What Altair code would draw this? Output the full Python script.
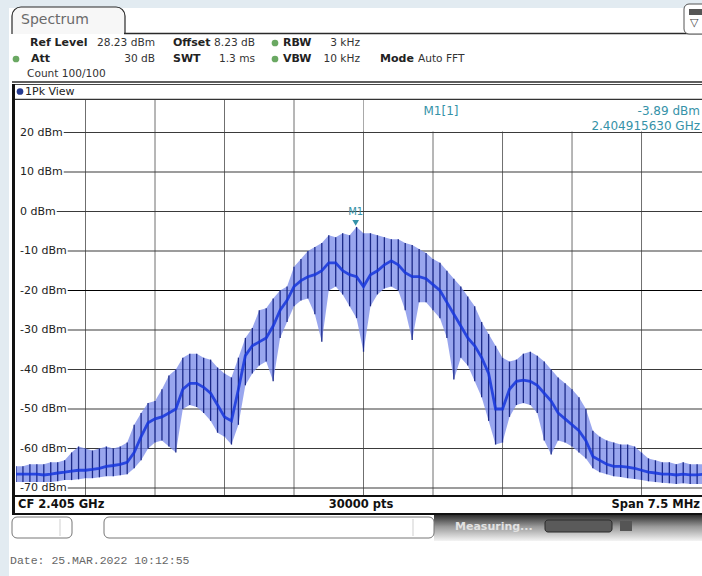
import altair as alt
import pandas as pd

# ---------------- data ----------------
freq_mhz = [
    -3.750, -3.675, -3.600, -3.525, -3.450, -3.375, -3.300, -3.225, -3.150, -3.075,
    -3.000, -2.925, -2.850, -2.775, -2.700, -2.625, -2.550, -2.475, -2.400, -2.325,
    -2.250, -2.175, -2.100, -2.025, -1.950, -1.875, -1.800, -1.725, -1.650, -1.575,
    -1.500, -1.425, -1.350, -1.275, -1.200, -1.125, -1.050, -0.975, -0.900, -0.825,
    -0.750, -0.675, -0.600, -0.525, -0.450, -0.375, -0.300, -0.225, -0.150, -0.075,
    0.000, 0.075, 0.150, 0.225, 0.300, 0.375, 0.450, 0.525, 0.600, 0.675,
    0.750, 0.825, 0.900, 0.975, 1.050, 1.125, 1.200, 1.275, 1.350, 1.425,
    1.500, 1.575, 1.650, 1.725, 1.800, 1.875, 1.950, 2.025, 2.100, 2.175,
    2.250, 2.325, 2.400, 2.475, 2.550, 2.625, 2.700, 2.775, 2.850, 2.925,
    3.000, 3.075, 3.150, 3.225, 3.300, 3.375, 3.450, 3.525, 3.600, 3.675,
    3.750,
]
peak_dbm = [
    -64.5, -64.5, -64.0, -64.0, -64.0, -63.5, -63.5, -63.0, -61.0, -59.5,
    -60.0, -60.5, -60.0, -59.5, -60.0, -59.5, -58.5, -54.0, -51.0, -48.5,
    -48.0, -45.0, -41.5, -40.0, -37.0, -36.0, -36.0, -37.0, -37.5, -39.5,
    -41.0, -42.0, -37.0, -32.0, -29.5, -25.0, -24.5, -22.0, -20.0, -19.0,
    -14.0, -12.0, -10.0, -9.0, -8.0, -6.0, -6.5, -5.5, -6.0, -3.9,
    -5.5, -5.5, -6.0, -6.5, -7.0, -7.0, -8.0, -8.5, -9.5, -10.5,
    -12.0, -13.0, -15.0, -17.0, -19.0, -21.5, -24.0, -28.0, -31.0, -34.0,
    -37.0, -38.0, -37.5, -36.0, -35.5, -36.5, -38.0, -40.0, -42.0, -43.5,
    -45.0, -47.0, -50.0, -55.5, -57.0, -58.0, -58.5, -59.0, -59.0, -59.5,
    -61.0, -62.5, -63.0, -63.5, -63.5, -64.0, -63.5, -64.0, -64.0, -64.0,
    -64.0,
]
core_dbm = [
    -66.5, -66.5, -66.5, -66.5, -66.7, -66.5, -66.2, -66.0, -65.7, -65.5,
    -65.5, -65.3, -65.0, -64.5, -64.3, -64.0, -63.5, -61.0, -57.0, -53.5,
    -52.5, -52.0, -51.0, -50.0, -45.0, -43.5, -43.5, -44.5, -46.0, -49.0,
    -52.0, -53.0, -45.0, -36.5, -34.0, -33.0, -32.0, -29.0, -25.0, -22.5,
    -19.0, -17.5, -16.5, -16.0, -15.0, -13.0, -13.0, -15.0, -16.0, -16.5,
    -19.0, -16.0, -15.0, -13.5, -12.5, -13.5, -15.5, -16.5, -16.5, -17.0,
    -18.5, -20.0, -23.0, -26.0, -29.0, -32.0, -34.0, -37.0, -41.0, -50.0,
    -50.0, -45.0, -43.0, -42.7, -43.0, -44.0, -46.0, -48.0, -51.0, -52.5,
    -54.0, -55.5, -58.0, -62.0, -63.0, -64.0, -64.5, -64.5, -64.7, -65.0,
    -65.5, -66.0, -66.2, -66.5, -66.5, -66.7, -66.5, -66.7, -66.7, -66.5,
    -66.5,
]
floor_dbm = [
    -68.5, -68.5, -68.5, -68.5, -68.5, -68.5, -68.3, -68.0, -68.0, -67.8,
    -67.5, -67.5, -67.3, -67.0, -67.0, -66.8, -66.5, -65.0, -63.0, -60.0,
    -58.5, -58.0, -59.5, -61.0, -50.0, -49.0, -49.5, -51.0, -53.0, -56.0,
    -57.0, -59.0, -54.0, -44.0, -41.0, -39.0, -38.0, -43.0, -32.0, -28.0,
    -24.0, -22.5, -22.0, -26.0, -33.0, -20.0, -19.0, -21.0, -24.0, -27.0,
    -35.5, -24.0, -21.0, -19.5, -19.0, -20.0, -25.0, -32.5, -23.0, -23.0,
    -25.0, -27.0, -32.0, -42.5, -37.0, -39.0, -43.0, -47.0, -53.0, -59.0,
    -58.5, -52.0, -49.0, -48.5, -49.0, -51.0, -58.0, -61.5, -58.0, -58.5,
    -59.5, -61.0, -62.5, -65.0, -66.0, -66.5, -67.0, -67.2, -67.5, -67.7,
    -68.0, -68.3, -68.5, -68.7, -68.8, -69.0, -68.8, -69.0, -69.0, -69.0,
    -69.0,
]

level_ticks = [20, 10, 0, -10, -20, -30, -40, -50, -60, -70]
level_labels = ["20 dBm", "10 dBm", "0 dBm", "-10 dBm", "-20 dBm",
                "-30 dBm", "-40 dBm", "-50 dBm", "-60 dBm", "-70 dBm"]
freq_grid = [-3.0, -2.25, -1.5, -0.75, 0.0, 0.75, 1.5, 2.25, 3.0]
marker_freq = [-0.08437]      # 2.404915630 GHz relative to CF 2.405 GHz
marker_level = [-3.89]

# ---------------- layout ----------------
W, H = 686, 395
PL, PT = 16, 100
PPM = 92.67                    # px per MHz
XMIN = -3.75
XMAX = XMIN + W / PPM
YMAX = 28.23
YMIN = YMAX - 100.0
FONT = "DejaVu Sans"

xs = alt.Scale(domain=[XMIN, XMAX], nice=False, zero=False)
ys = alt.Scale(domain=[YMIN, YMAX], nice=False, zero=False)

one = pd.DataFrame({"k": [0]})


def X(v):
    return v - PL


def Y(v):
    return v - PT


def rect(x1, y1, x2, y2, **kw):
    return alt.Chart(one).mark_rect(**kw).encode(
        x=alt.value(X(x1)), x2=alt.value(X(x2)), y=alt.value(Y(y1)), y2=alt.value(Y(y2)))


def line(x1, y1, x2, y2, color="#222", w=1.0):
    return alt.Chart(one).mark_rule(color=color, strokeWidth=w).encode(
        x=alt.value(X(x1)), x2=alt.value(X(x2)), y=alt.value(Y(y1)), y2=alt.value(Y(y2)))


def txt(s, x, y, size=11, weight="normal", align="left", color="#222", font=FONT):
    return alt.Chart(one).mark_text(
        text=s, fontSize=size, fontWeight=weight, align=align, baseline="middle",
        color=color, font=font).encode(x=alt.value(X(x)), y=alt.value(Y(y)))


def dot(x, y, color, size=40):
    return alt.Chart(one).mark_point(filled=True, shape="circle", size=size,
                                     color=color, opacity=1).encode(
        x=alt.value(X(x)), y=alt.value(Y(y)))


# ---------------- chrome ----------------
layers = []
layers.append(rect(9, 8, 710, 580, color="white"))
# tab
layers.append(rect(12, 7, 125, 42, fill="#f7f7f7", stroke="#2a2a2a", strokeWidth=1.2,
                   cornerRadiusTopLeft=9, cornerRadiusTopRight=9))
layers.append(rect(10, 34, 710, 82, color="white"))
layers.append(line(124, 33.5, 702, 33.5, "#2a2a2a", 1.3))
layers.append(txt("Spectrum", 21, 20, size=14, color="#6a6a6a"))
# top right icon
layers.append(rect(684, 4, 712, 34, fill="white", stroke="#555", strokeWidth=1,
                   cornerRadius=5))
layers.append(rect(689, 9, 702, 15, color="#555"))
layers.append(txt("\u25bd", 690, 23, size=11, color="#444"))

# header rows
VS = 10.6
layers += [
    txt("Ref Level", 30, 43, weight="bold"),
    txt("28.23 dBm", 155, 43, size=VS, align="right", color="#333"),
    txt("Offset", 173, 43, weight="bold"),
    txt("8.23 dB", 255, 43, size=VS, align="right", color="#333"),
    dot(275, 43, "#6aa862", 45),
    txt("RBW", 283, 43, weight="bold"),
    txt("3 kHz", 360, 43, size=VS, align="right", color="#333"),
    dot(16, 59, "#6aa862", 45),
    txt("Att", 31, 59, weight="bold"),
    txt("30 dB", 155, 59, size=VS, align="right", color="#333"),
    txt("SWT", 173, 59, weight="bold"),
    txt("1.3 ms", 255, 59, size=VS, align="right", color="#333"),
    dot(275, 59, "#6aa862", 45),
    txt("VBW", 283, 59, weight="bold"),
    txt("10 kHz", 360, 59, size=VS, align="right", color="#333"),
    txt("Mode", 380, 59, weight="bold"),
    txt("Auto FFT", 418, 59, size=VS, color="#333"),
    txt("Count 100/100", 27, 74, size=VS, color="#333"),
]
layers.append(line(12, 82, 702, 82, "#2a2a2a", 1.5))
# panel title bar
layers.append(line(12, 84.5, 702, 84.5, "#444", 1))
layers.append(dot(20, 91.5, "#24398f", 45))
layers.append(txt("1Pk View", 25, 91.5, color="#222"))
layers.append(line(12, 99.3, 702, 99.3, "#333", 1.2))

# ---------------- grid ----------------
vgrid = pd.DataFrame({"f": freq_grid})
layers.append(alt.Chart(vgrid).mark_rule(color="#6f6f6f", strokeWidth=1).encode(
    x=alt.X("f:Q", scale=xs, axis=None), y=alt.value(0), y2=alt.value(H)))

em = {"0": 0.636, "1": 0.636, "2": 0.636, "3": 0.636, "4": 0.636, "5": 0.636,
      "6": 0.636, "7": 0.636, "8": 0.636, "9": 0.636, "-": 0.361, " ": 0.318,
      "d": 0.635, "B": 0.686, "m": 0.974}
hgrid = pd.DataFrame({
    "level": level_ticks,
    "label": level_labels,
    "start": [XMIN + (4 + 11 * sum(em[c] for c in s) + 1) / PPM for s in level_labels],
    "col": ["#000000" if v == -20 else "#3a3a3a" for v in level_ticks],
})
layers.append(alt.Chart(hgrid).mark_rule(strokeWidth=1.1).encode(
    x=alt.X("start:Q", scale=xs, axis=None), x2=alt.value(W),
    y=alt.Y("level:Q", scale=ys, axis=None),
    color=alt.Color("col:N", scale=None)))

# marker info box
layers.append(rect(363.6, 100, 712, 131.6, color="white"))

# ---------------- trace ----------------
trace = pd.DataFrame({"f": freq_mhz, "peak": peak_dbm, "core": core_dbm, "floor": floor_dbm})
layers.append(alt.Chart(trace).mark_area(clip=True, color="#7f90ea", opacity=0.8).encode(
    x=alt.X("f:Q", scale=xs, axis=None),
    y=alt.Y("floor:Q", scale=ys, axis=None), y2="peak:Q"))
layers.append(alt.Chart(trace).mark_rule(clip=True, color="#1c2a88", strokeWidth=1.3).encode(
    x=alt.X("f:Q", scale=xs, axis=None),
    y=alt.Y("floor:Q", scale=ys, axis=None), y2="peak:Q"))
layers.append(alt.Chart(trace).mark_line(clip=True, color="#1535dc", strokeWidth=2.8,
                                          opacity=0.85).encode(
    x=alt.X("f:Q", scale=xs, axis=None),
    y=alt.Y("core:Q", scale=ys, axis=None)))

# level labels
layers.append(alt.Chart(hgrid).mark_text(align="left", baseline="middle", fontSize=11,
                                         font=FONT, color="#222").encode(
    x=alt.value(4), y=alt.Y("level:Q", scale=ys, axis=None), text="label:N"))

# marker
mk = pd.DataFrame({"f": marker_freq, "lv": marker_level})
layers.append(alt.Chart(mk).mark_point(shape="triangle-down", filled=True, size=45,
                                       color="#3592a8", opacity=1, yOffset=-4).encode(
    x=alt.X("f:Q", scale=xs, axis=None), y=alt.Y("lv:Q", scale=ys, axis=None)))
layers.append(alt.Chart(mk).mark_text(text="M1", fontSize=10, font=FONT, color="#3592a8",
                                      baseline="middle", dy=-15).encode(
    x=alt.X("f:Q", scale=xs, axis=None), y=alt.Y("lv:Q", scale=ys, axis=None)))
layers.append(txt("M1[1]", 441, 111, size=12, align="center", color="#3592a8"))
layers.append(txt("-3.89 dBm", 700, 111, size=12, align="right", color="#3592a8"))
layers.append(txt("2.404915630 GHz", 700, 126, size=12, align="right", color="#3592a8"))

# ---------------- bottom bar ----------------
layers.append(rect(12, 496, 710, 514, color="white"))
layers.append(line(12, 496, 702, 496, "#111", 2.2))
layers.append(line(12, 514, 702, 514, "#111", 2))
layers.append(line(13.5, 84, 13.5, 515, "#111", 3))
layers.append(txt("CF 2.405 GHz", 18, 505, size=11.5, weight="bold", color="#111"))
layers.append(txt("30000 pts", 361, 505, size=11.5, weight="bold", align="center", color="#111"))
layers.append(txt("Span 7.5 MHz", 700, 505, size=11.5, weight="bold", align="right", color="#111"))

# status bar
grad = alt.Gradient(gradient="linear",
                    stops=[alt.GradientStop(color="#2e2e2e", offset=0),
                           alt.GradientStop(color="#9a9a9a", offset=0.45),
                           alt.GradientStop(color="#f4f4f4", offset=1)],
                    x1=0, x2=0, y1=0, y2=1)
layers.append(rect(434, 515, 712, 541, color=grad))
layers.append(rect(12, 517, 72, 538, fill="white", stroke="#777", strokeWidth=1, cornerRadius=5))
layers.append(line(60, 519, 60, 536, "#cfcfcf", 1))
layers.append(rect(104, 517, 434, 538, fill="white", stroke="#777", strokeWidth=1, cornerRadius=5))
layers.append(line(413, 519, 413, 536, "#cfcfcf", 1))
layers.append(txt("Measuring...", 455, 527, size=11, weight="bold", color="#e2e2e2"))
layers.append(rect(545, 520, 612, 532, fill="#5a5a5a", stroke="#2a2a2a", strokeWidth=1, cornerRadius=3))
layers.append(rect(620, 521, 632, 531, color="#555"))

# date
layers.append(txt("Date: 25.MAR.2022  10:12:55", 10, 561, size=11.5, color="#666",
                  font="Liberation Mono"))

chart = alt.layer(*layers).properties(
    width=W, height=H,
    padding={"left": PL, "top": PT, "right": 0, "bottom": 576 - PT - H},
    autosize=alt.AutoSizeParams(type="none"),
    background="#e2ebf1",
).configure_view(stroke=None)

chart.save("out.html", embed_options={"renderer": "svg", "actions": False})
